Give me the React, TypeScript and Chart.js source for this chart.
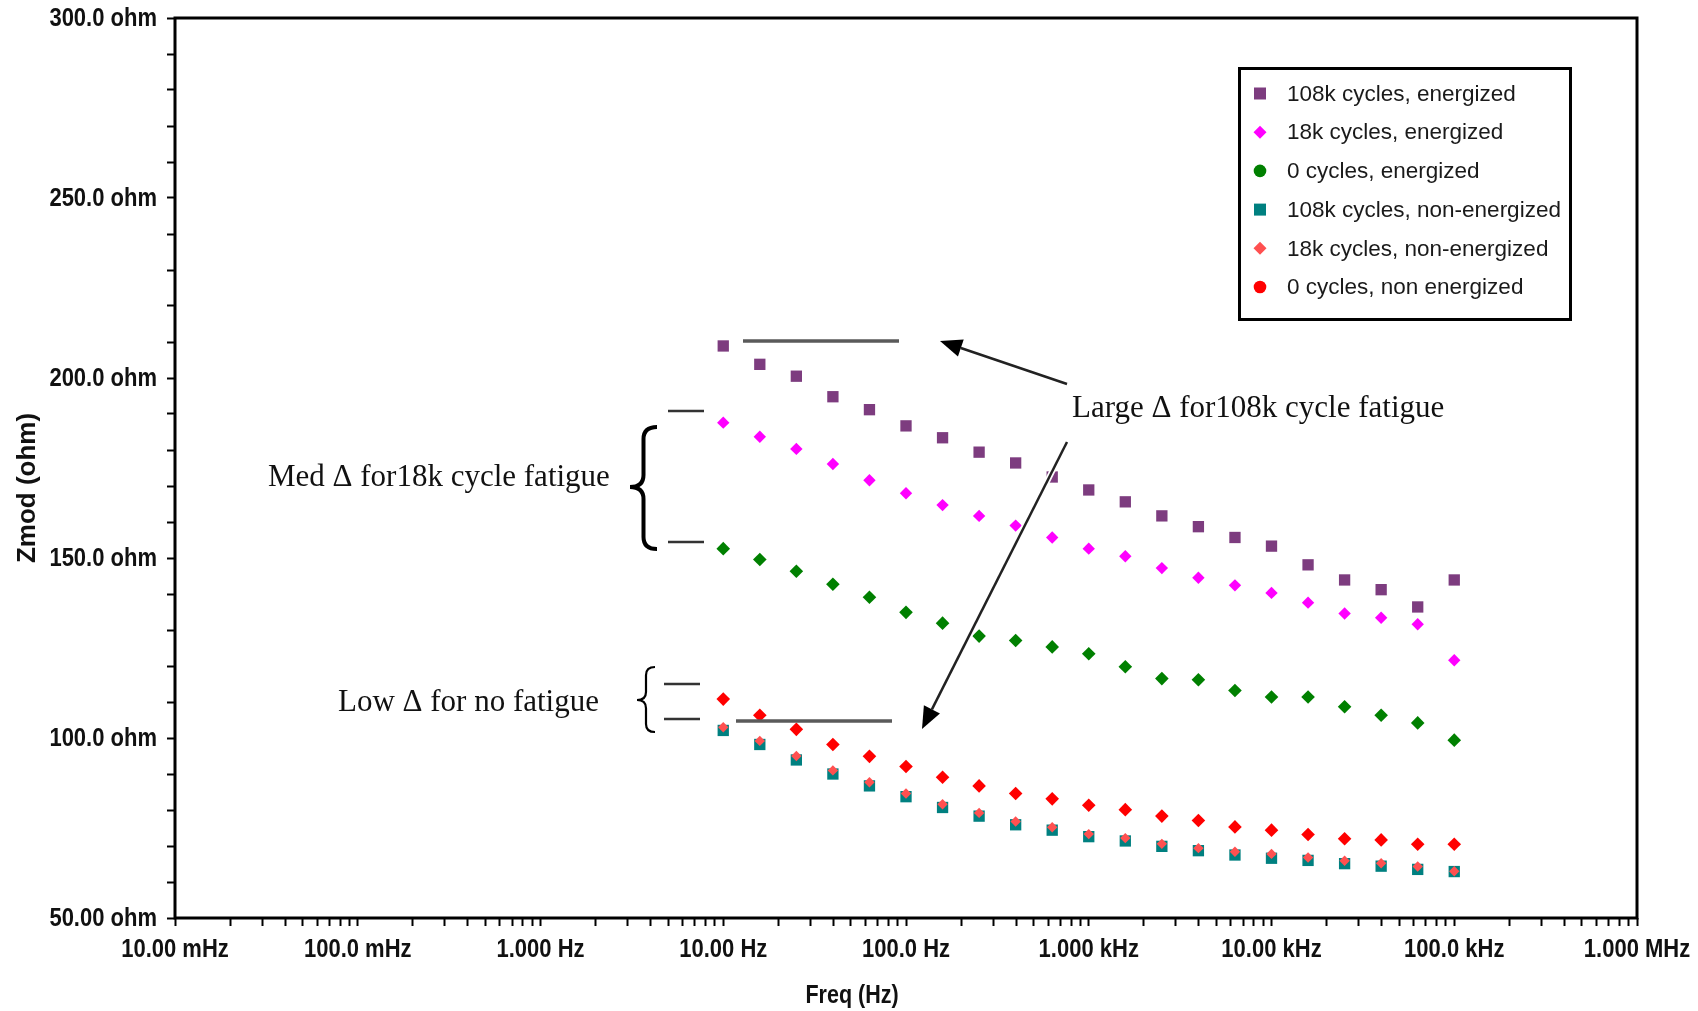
import React, { useEffect, useRef } from 'react';
import { Chart, registerables } from 'chart.js';

Chart.register(...registerables);

// ---------- data ----------
const freqHz = [10, 15.85, 25.12, 39.81, 63.1, 100, 158.5, 251.2, 398.1, 631, 1000, 1585, 2512, 3981, 6310, 10000, 15850, 25120, 39810, 63100, 100000];

const z108kEnergized = [208.9, 203.8, 200.5, 194.8, 191.2, 186.7, 183.4, 179.4, 176.4, 172.5, 168.9, 165.6, 161.7, 158.7, 155.7, 153.3, 148.1, 143.9, 141.2, 136.4, 143.9];
const z18kEnergized = [187.6, 183.7, 180.3, 176.1, 171.6, 168.0, 164.7, 161.7, 159.0, 155.7, 152.6, 150.5, 147.2, 144.5, 142.4, 140.3, 137.6, 134.6, 133.4, 131.6, 121.6];
const z0Energized = [152.6, 149.6, 146.3, 142.7, 139.1, 134.9, 131.9, 128.3, 127.1, 125.3, 123.4, 119.8, 116.5, 116.2, 113.2, 111.4, 111.4, 108.7, 106.3, 104.2, 99.4];
const z108kNonEnergized = [102.1, 98.2, 93.9, 90.0, 86.7, 83.7, 80.7, 78.3, 75.9, 74.4, 72.6, 71.4, 69.9, 68.7, 67.5, 66.6, 66.0, 65.1, 64.4, 63.5, 62.9];
const z18kNonEnergized = [103.0, 99.2, 95.0, 91.0, 87.7, 84.6, 81.6, 79.2, 76.8, 75.2, 73.3, 72.2, 70.6, 69.4, 68.4, 67.8, 66.8, 65.9, 65.2, 64.3, 63.0];
const z0NonEnergized = [110.8, 106.3, 102.4, 98.2, 94.9, 92.1, 89.1, 86.7, 84.6, 83.1, 81.3, 80.1, 78.3, 77.1, 75.3, 74.4, 73.2, 72.0, 71.7, 70.5, 70.5];

const seriesLabels = [
  '108k cycles, energized',
  '18k cycles, energized',
  '0 cycles, energized',
  '108k cycles, non-energized',
  '18k cycles, non-energized',
  '0 cycles, non energized',
];
const seriesValues = [z108kEnergized, z18kEnergized, z0Energized, z108kNonEnergized, z18kNonEnergized, z0NonEnergized];
const seriesColors = ['#7D3C7F', '#FF00FF', '#008000', '#008080', '#FF5050', '#FF0000'];
const seriesPointStyles = ['rect', 'rectRot', 'rectRot', 'rect', 'rectRot', 'rectRot'];
const seriesPointRadius = [8, 6.2, 6.8, 8, 5.2, 6.8];
const seriesOrder = [0, 0, 0, 2, 1, 0];
const legendMarkers = ['square', 'diamond', 'circle', 'square', 'diamond', 'circle'];

const xTickValues = [0.01, 0.1, 1, 10, 100, 1000, 10000, 100000, 1000000];
const xTickLabels = ['10.00 mHz', '100.0 mHz', '1.000 Hz', '10.00 Hz', '100.0 Hz', '1.000 kHz', '10.00 kHz', '100.0 kHz', '1.000 MHz'];
const xMinorMultipliers = [2, 3, 4, 5, 6, 7, 8, 9];

const yTickValues = [50, 100, 150, 200, 250, 300];
const yTickLabels = ['50.00 ohm', '100.0 ohm', '150.0 ohm', '200.0 ohm', '250.0 ohm', '300.0 ohm'];
const yMinorStep = 10;

const xTitle = 'Freq (Hz)';
const yTitle = 'Zmod (ohm)';
const noteLarge = 'Large \u0394 for108k cycle fatigue';
const noteMed = 'Med \u0394 for18k cycle fatigue';
const noteLow = 'Low \u0394 for no fatigue';

// ---------- helpers ----------
function line(ctx: CanvasRenderingContext2D, x1: number, y1: number, x2: number, y2: number) {
  ctx.beginPath();
  ctx.moveTo(x1, y1);
  ctx.lineTo(x2, y2);
  ctx.stroke();
}

function arrow(ctx: CanvasRenderingContext2D, x1: number, y1: number, x2: number, y2: number, halo: boolean) {
  const ang = Math.atan2(y2 - y1, x2 - x1);
  const hl = 22;
  const hw = 9;
  const bx = x2 - hl * Math.cos(ang);
  const by = y2 - hl * Math.sin(ang);
  if (halo) {
    ctx.strokeStyle = '#fff';
    ctx.lineWidth = 6;
    line(ctx, x1, y1, bx, by);
  }
  ctx.strokeStyle = '#222';
  ctx.lineWidth = 2.5;
  line(ctx, x1, y1, bx, by);
  ctx.fillStyle = '#000';
  ctx.beginPath();
  ctx.moveTo(x2, y2);
  ctx.lineTo(bx + hw * Math.sin(ang), by - hw * Math.cos(ang));
  ctx.lineTo(bx - hw * Math.sin(ang), by + hw * Math.cos(ang));
  ctx.closePath();
  ctx.fill();
}

function brace(ctx: CanvasRenderingContext2D, x0: number, x1: number, yt: number, yb: number, ym: number, lw: number) {
  const xm = (x0 + x1) / 2;
  const r = Math.min(12, (yb - yt) / 8);
  ctx.strokeStyle = '#000';
  ctx.lineWidth = lw;
  ctx.beginPath();
  ctx.moveTo(x1, yt);
  ctx.quadraticCurveTo(xm, yt, xm, yt + r);
  ctx.lineTo(xm, ym - r);
  ctx.quadraticCurveTo(xm, ym, x0, ym);
  ctx.quadraticCurveTo(xm, ym, xm, ym + r);
  ctx.lineTo(xm, yb - r);
  ctx.quadraticCurveTo(xm, yb, x1, yb);
  ctx.stroke();
}

function narrowText(ctx: CanvasRenderingContext2D, text: string, x: number, y: number, sx: number, align: CanvasTextAlign) {
  ctx.save();
  ctx.translate(x, y);
  ctx.scale(sx, 1);
  ctx.textAlign = align;
  ctx.fillText(text, 0, 0);
  ctx.restore();
}

const decorPlugin = {
  id: 'decor',
  afterDatasetsDraw(chart: any) {
    const ctx: CanvasRenderingContext2D = chart.ctx;
    const { left, top, right, bottom } = chart.chartArea;
    const xs = chart.scales.x;
    const ys = chart.scales.y;
    ctx.save();

    // plot frame
    ctx.strokeStyle = '#000';
    ctx.lineWidth = 3;
    ctx.strokeRect(left, top, right - left, bottom - top);

    // tick labels (bold, slightly condensed)
    ctx.fillStyle = '#111';
    ctx.font = 'bold 25px "Liberation Sans", Arial, sans-serif';
    ctx.textBaseline = 'middle';
    for (let i = 0; i < yTickValues.length; i++) {
      const py = ys.getPixelForValue(yTickValues[i]);
      narrowText(ctx, yTickLabels[i], left - 18, py + 1, 0.88, 'right');
    }
    for (let i = 0; i < xTickValues.length; i++) {
      const px = xs.getPixelForValue(xTickValues[i]);
      narrowText(ctx, xTickLabels[i], px, bottom + 32, 0.88, 'center');
    }

    // long grey marker lines
    ctx.strokeStyle = '#5a5a5a';
    ctx.lineWidth = 3.5;
    line(ctx, 743, 341, 899, 341);
    line(ctx, 736, 721, 892, 721);

    // short dashes next to braces
    ctx.strokeStyle = '#333';
    ctx.lineWidth = 2.5;
    line(ctx, 668, 411, 704, 411);
    line(ctx, 668, 542, 704, 542);
    line(ctx, 664, 684, 700, 684);
    line(ctx, 664, 719, 700, 719);

    // arrows
    arrow(ctx, 1067, 384, 940, 341, false);
    arrow(ctx, 1067, 442, 922, 729, true);

    // braces
    brace(ctx, 630, 657, 427, 549, 487, 4);
    brace(ctx, 637, 655, 667, 732, 700, 2.2);

    // annotation texts
    ctx.fillStyle = '#111';
    ctx.font = '31px "Liberation Serif", "Times New Roman", serif';
    ctx.textBaseline = 'middle';
    ctx.textAlign = 'left';
    ctx.fillText(noteLarge, 1072, 409);
    ctx.fillText(noteMed, 268, 478);
    ctx.fillText(noteLow, 338, 703);

    // legend box
    const lx = 1238, ly = 67, lw = 334, lh = 254;
    ctx.fillStyle = '#fff';
    ctx.fillRect(lx, ly, lw, lh);
    ctx.strokeStyle = '#000';
    ctx.lineWidth = 3;
    ctx.strokeRect(lx + 1.5, ly + 1.5, lw - 3, lh - 3);
    ctx.font = '22.5px "Liberation Sans", Arial, sans-serif';
    ctx.textAlign = 'left';
    ctx.textBaseline = 'middle';
    for (let i = 0; i < seriesLabels.length; i++) {
      const cy = 93.5 + i * 38.7;
      const cx = 1260;
      ctx.fillStyle = seriesColors[i];
      ctx.beginPath();
      if (legendMarkers[i] === 'square') {
        ctx.rect(cx - 6, cy - 6, 12, 12);
      } else if (legendMarkers[i] === 'diamond') {
        ctx.moveTo(cx, cy - 6.5);
        ctx.lineTo(cx + 6.5, cy);
        ctx.lineTo(cx, cy + 6.5);
        ctx.lineTo(cx - 6.5, cy);
        ctx.closePath();
      } else {
        ctx.arc(cx, cy, 6.3, 0, Math.PI * 2);
      }
      ctx.fill();
      ctx.fillStyle = '#1a1a1a';
      ctx.fillText(seriesLabels[i], 1287, cy + 1);
    }

    // axis titles
    ctx.fillStyle = '#111';
    ctx.font = 'bold 25px "Liberation Sans", Arial, sans-serif';
    ctx.textBaseline = 'alphabetic';
    narrowText(ctx, xTitle, 852, 1003, 0.86, 'center');

    ctx.save();
    ctx.translate(35, 488);
    ctx.rotate(-Math.PI / 2);
    ctx.font = 'bold 26px "Liberation Sans", Arial, sans-serif';
    ctx.textAlign = 'center';
    ctx.fillText(yTitle, 0, 0);
    ctx.restore();

    ctx.restore();
  },
};

export default function App() {
  const canvasRef = useRef<HTMLCanvasElement | null>(null);

  useEffect(() => {
    const canvas = canvasRef.current;
    if (!canvas) return;

    const datasets = seriesLabels.map((label, i) => ({
      label,
      data: freqHz.map((f, j) => ({ x: f, y: seriesValues[i][j] })),
      showLine: false,
      pointStyle: seriesPointStyles[i],
      pointRadius: seriesPointRadius[i],
      pointHoverRadius: seriesPointRadius[i],
      pointBackgroundColor: seriesColors[i],
      pointBorderColor: seriesColors[i],
      pointBorderWidth: 0,
      backgroundColor: seriesColors[i],
      borderColor: seriesColors[i],
      order: seriesOrder[i],
    }));

    const chart = new Chart(canvas, {
      type: 'scatter',
      data: { datasets: datasets as any },
      options: {
        animation: false,
        responsive: false,
        devicePixelRatio: 1,
        layout: { padding: { left: 0, top: 18, right: 61, bottom: 0 } },
        plugins: {
          legend: { display: false },
          tooltip: { enabled: false },
        },
        scales: {
          x: {
            type: 'logarithmic',
            min: xTickValues[0],
            max: xTickValues[xTickValues.length - 1],
            afterBuildTicks: (scale: any) => {
              const ticks: { value: number }[] = [];
              for (let d = 0; d < xTickValues.length - 1; d++) {
                ticks.push({ value: xTickValues[d] });
                for (const m of xMinorMultipliers) ticks.push({ value: m * xTickValues[d] });
              }
              ticks.push({ value: xTickValues[xTickValues.length - 1] });
              scale.ticks = ticks;
            },
            afterFit: (scale: any) => {
              scale.height = 93;
            },
            border: { display: false },
            grid: {
              drawOnChartArea: false,
              drawTicks: true,
              tickLength: 8,
              tickWidth: 2,
              tickColor: '#000',
            },
            ticks: { display: false, autoSkip: false, maxRotation: 0, minRotation: 0 },
          },
          y: {
            type: 'linear',
            min: yTickValues[0],
            max: yTickValues[yTickValues.length - 1],
            afterBuildTicks: (scale: any) => {
              const ticks: { value: number }[] = [];
              for (let v = yTickValues[0]; v <= yTickValues[yTickValues.length - 1]; v += yMinorStep) {
                ticks.push({ value: v });
              }
              scale.ticks = ticks;
            },
            afterFit: (scale: any) => {
              scale.width = 175;
            },
            border: { display: false },
            grid: {
              drawOnChartArea: false,
              drawTicks: true,
              tickLength: 8,
              tickWidth: 2,
              tickColor: '#000',
            },
            ticks: { display: false, autoSkip: false },
          },
        },
      },
      plugins: [decorPlugin],
    } as any);

    return () => {
      chart.destroy();
    };
  }, []);

  return (
    <div style={{ position: 'absolute', left: 0, top: 0, width: 1698, height: 1011, background: '#fff' }}>
      <canvas ref={canvasRef} width={1698} height={1011} style={{ display: 'block', width: 1698, height: 1011 }} />
    </div>
  );
}
